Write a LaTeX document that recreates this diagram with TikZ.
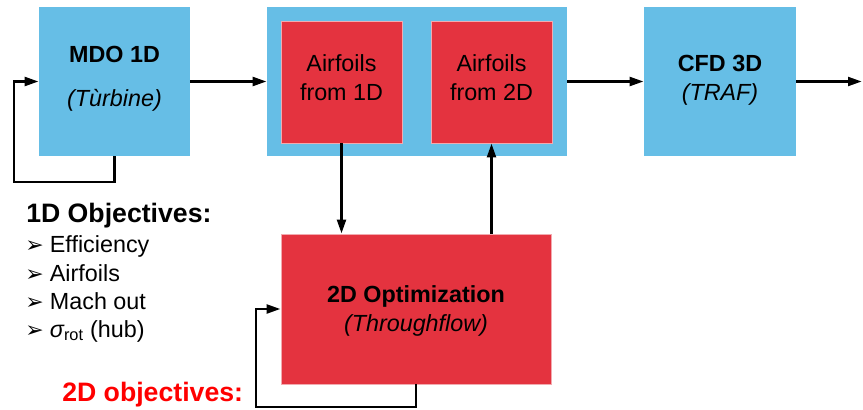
\documentclass[tikz,border=0pt]{standalone}
\usepackage{fontspec}
\setmainfont{Liberation Sans}
\newfontfamily\dingfont{DejaVu Sans}
\usetikzlibrary{arrows.meta}
\definecolor{boxblue}{RGB}{102,190,230}
\definecolor{boxred}{RGB}{228,51,63}
\definecolor{rededge}{RGB}{242,170,175}
\definecolor{objred}{RGB}{255,0,0}
\newcommand\bul{\makebox[18.5pt][l]{\dingfont\fontsize{16.5}{16.5}\selectfont ➢}}
\tikzset{
  boxdim/.style 2 args={minimum width={#1*0.75pt}, minimum height={#2*0.75pt}},
  bluebox/.style={fill=boxblue, draw=none, inner sep=0pt},
  redbox/.style={fill=boxred, draw=rededge, line width=0.5pt, inner sep=0pt},
  txt/.style={anchor=base, inner sep=0pt, font=\fontsize{17.5}{21}\selectfont},
  item/.style={anchor=base west, inner sep=0pt, font=\fontsize{17.5}{21}\selectfont},
  heading/.style={anchor=base west, inner sep=0pt, font=\bfseries\fontsize{20}{24}\selectfont},
  conn/.style={line width=2.2pt, -{Triangle[length=10.5pt,width=6.5pt]}},
}
\begin{document}
\begin{tikzpicture}[x=0.75pt, y=-0.75pt]
\useasboundingbox (0,0) rectangle (863,410);

% process blocks
\node[bluebox, boxdim={151}{149}] (mdo) at (114.5,81.5) {};
\node[bluebox, boxdim={300}{149}] (big) at (417,81.5) {};
\node[redbox, boxdim={121}{122}] (a1) at (341.5,82) {};
\node[redbox, boxdim={121}{122}] (a2) at (491.5,82) {};
\node[bluebox, boxdim={152}{149}] (cfd) at (720,81.5) {};
\node[redbox, boxdim={270}{150}] (opt) at (416,309) {};

% block labels
\node[txt, font=\bfseries\fontsize{17.5}{21}\selectfont] (mdoA) at (114.5,63) {MDO 1D};
\node[txt, font=\itshape\fontsize{17.5}{21}\selectfont] (mdoB) at (114.5,106) {(Tùrbine)};
\node[txt] (a1A) at (341.5,71) {Airfoils};
\node[txt] (a1B) at (341.5,100) {from 1D};
\node[txt] (a2A) at (491.5,71) {Airfoils};
\node[txt] (a2B) at (491.5,100) {from 2D};
\node[txt, font=\bfseries\fontsize{17.5}{21}\selectfont] (cfdA) at (720,71) {CFD 3D};
\node[txt, font=\itshape\fontsize{17.5}{21}\selectfont] (cfdB) at (720,100) {(TRAF)};
\node[txt, font=\bfseries\fontsize{17.5}{21}\selectfont] (optA) at (416,302) {2D Optimization};
\node[txt, font=\itshape\fontsize{17.5}{21}\selectfont] (optB) at (416,331) {(Throughflow)};

% objectives
\node[heading] (obj1) at (26,222) {1D Objectives:};
\node[item] (i1) at (25,252) {\bul Efficiency};
\node[item] (i2) at (25,281) {\bul Airfoils};
\node[item] (i3) at (25,309) {\bul Mach out};
\node[item] (i4) at (25,337) {\bul{\itshape σ}\textsubscript{rot} (hub)};
\node[heading, text=objred] (obj2) at (62,401) {2D objectives:};

% connectors
\coordinate (l1) at (14,182);
\coordinate (l2) at (256,407);
\coordinate (out) at (862,81.5);
\draw[conn] (mdo.south) |- (l1) |- (mdo.west);
\draw[conn] (mdo.east) -- (big.west);
\draw[conn] (big.east) -- (cfd.west);
\draw[conn] (cfd.east) -- (out);
\draw[conn] (a1.south) -- (a1.south |- opt.north);
\draw[conn] (a2.south |- opt.north) -- (a2.south);
\draw[conn] (opt.south) |- (l2) |- (opt.west);
\end{tikzpicture}
\end{document}
